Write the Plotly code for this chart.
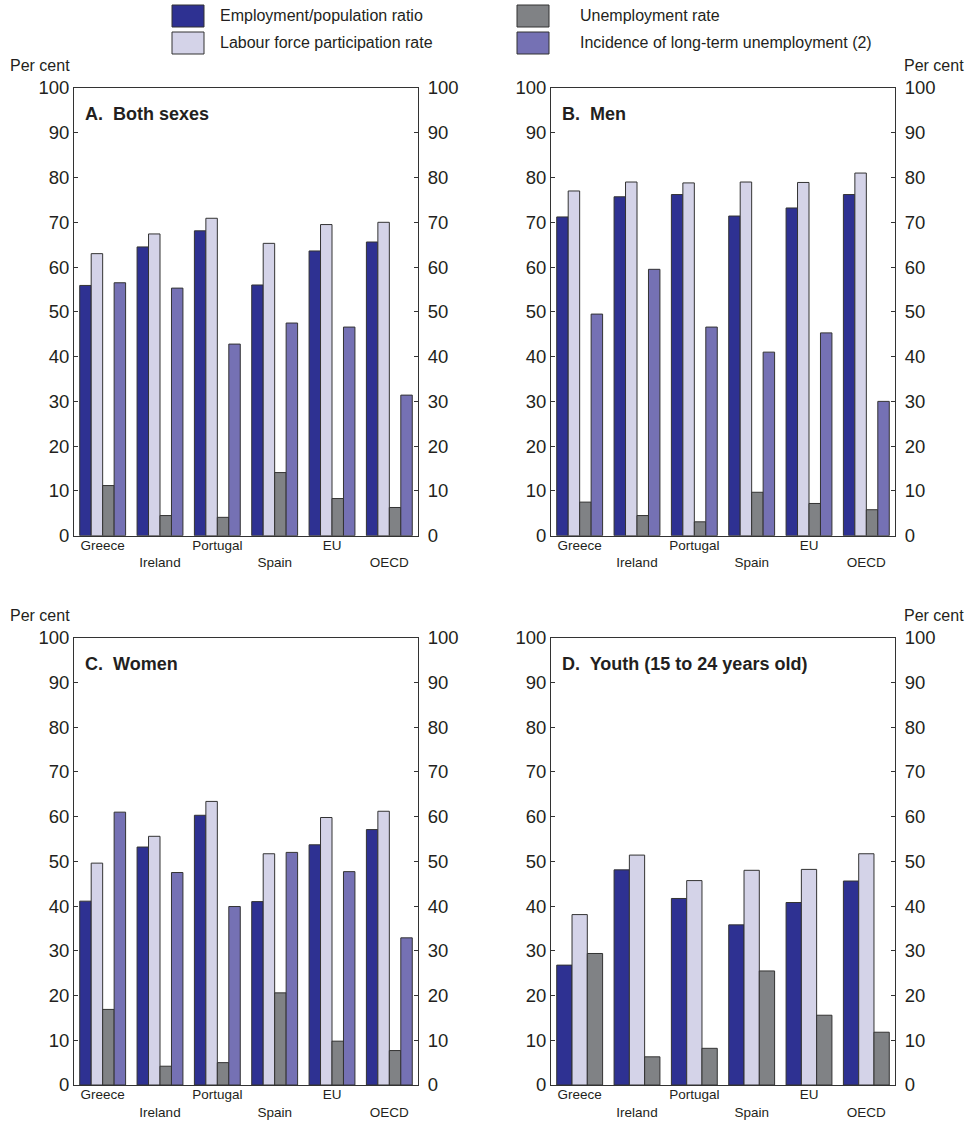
import plotly.graph_objects as go

# ---- data -------------------------------------------------------------
countries = ["Greece", "Ireland", "Portugal", "Spain", "EU", "OECD"]
# tick text: every second label drops to a second line
country_ticktext = ["Greece", "<br>Ireland", "Portugal", "<br>Spain", "EU", "<br>OECD"]

series_names = [
    "Employment/population ratio",
    "Labour force participation rate",
    "Unemployment rate",
    "Incidence of long-term unemployment (2)",
]
series_colors = ["#2E3192", "#D4D3E8", "#808285", "#7571B4"]

panel_titles = [
    "A.  Both sexes",
    "B.  Men",
    "C.  Women",
    "D.  Youth (15 to 24 years old)",
]

# Panel A: both sexes
both_emp = [55.9, 64.5, 68.1, 56.0, 63.6, 65.6]
both_lfp = [63.0, 67.4, 70.9, 65.3, 69.5, 70.0]
both_unemp = [11.2, 4.5, 4.1, 14.1, 8.3, 6.3]
both_ltu = [56.5, 55.3, 42.8, 47.5, 46.6, 31.4]

# Panel B: men
men_emp = [71.2, 75.7, 76.2, 71.4, 73.2, 76.2]
men_lfp = [77.0, 79.0, 78.8, 79.0, 78.9, 81.0]
men_unemp = [7.5, 4.5, 3.1, 9.7, 7.2, 5.8]
men_ltu = [49.5, 59.5, 46.6, 41.0, 45.3, 30.0]

# Panel C: women
women_emp = [41.1, 53.2, 60.3, 41.0, 53.7, 57.1]
women_lfp = [49.6, 55.6, 63.4, 51.7, 59.8, 61.2]
women_unemp = [16.9, 4.2, 5.0, 20.6, 9.8, 7.7]
women_ltu = [61.0, 47.5, 39.9, 52.0, 47.7, 32.9]

# Panel D: youth (no long-term unemployment series)
youth_emp = [26.8, 48.1, 41.7, 35.8, 40.8, 45.6]
youth_lfp = [38.1, 51.4, 45.7, 48.0, 48.2, 51.7]
youth_unemp = [29.4, 6.3, 8.2, 25.5, 15.6, 11.8]

panels = [
    [both_emp, both_lfp, both_unemp, both_ltu],
    [men_emp, men_lfp, men_unemp, men_ltu],
    [women_emp, women_lfp, women_unemp, women_ltu],
    [youth_emp, youth_lfp, youth_unemp],
]

y_ticks = list(range(0, 101, 10))

# ---- layout geometry (pixels) ------------------------------------------
W, H = 973, 1121
FONT = "Liberation Sans, Arial, Helvetica, sans-serif"
TEXT = "#231F20"
LINE = "#333333"

# plot boxes: (left, right, top, bottom) in pixels
boxes = [
    (74, 418, 88, 535.7),
    (551, 895, 88, 535.7),
    (74, 418, 637.7, 1085),
    (551, 895, 637.7, 1085),
]


def px(x):
    return x / W


def py(y):
    return 1 - y / H


fig = go.Figure()
layout = dict(
    width=W,
    height=H,
    margin=dict(l=0, r=0, t=0, b=0),
    paper_bgcolor="white",
    plot_bgcolor="white",
    barmode="group",
    bargap=0.2,
    bargroupgap=0,
    showlegend=False,
    font=dict(family=FONT, color=TEXT),
)

annotations = []
shapes = []

for i, (values, box) in enumerate(zip(panels, boxes)):
    n = i + 1
    xa = "x" if n == 1 else f"x{n}"
    ya = "y" if n == 1 else f"y{n}"
    ya_r = f"y{n + 4}"
    left, right, top, bottom = box

    for s, vals in enumerate(values):
        fig.add_trace(
            go.Bar(
                x=countries,
                y=vals,
                name=series_names[s],
                marker=dict(color=series_colors[s], line=dict(color=LINE, width=1)),
                xaxis=xa,
                yaxis=ya,
                showlegend=False,
            )
        )
    # placeholder trace that brings the right-hand value axis to life
    fig.add_trace(
        go.Scatter(x=[], y=[], xaxis=xa, yaxis=ya_r, showlegend=False, hoverinfo="skip")
    )

    layout[f"xaxis{n if n > 1 else ''}"] = dict(
        domain=[px(left), px(right)],
        anchor=ya,
        type="category",
        categoryorder="array",
        categoryarray=countries,
        range=[-0.5, 5.5],
        tickmode="array",
        tickvals=countries,
        ticktext=country_ticktext,
        ticks="",
        ticklabelstandoff=-3,
        showline=True,
        mirror=True,
        linecolor=LINE,
        linewidth=1,
        showgrid=False,
        zeroline=False,
        tickfont=dict(size=13.5, color=TEXT),
        automargin=False,
    )
    common_y = dict(
        range=[0, 100],
        tickmode="array",
        tickvals=y_ticks,
        ticks="inside",
        ticklen=4,
        tickcolor=LINE,
        showline=True,
        linecolor=LINE,
        linewidth=1,
        showgrid=False,
        zeroline=False,
        tickfont=dict(size=18.5, color=TEXT),
        automargin=False,
    )
    layout[f"yaxis{n if n > 1 else ''}"] = dict(
        domain=[py(bottom), py(top)], anchor=xa, side="left", **common_y
    )
    layout[f"yaxis{n + 4}"] = dict(
        domain=[py(bottom), py(top)],
        anchor=xa,
        overlaying=ya,
        side="right",
        ticklabelstandoff=5,
        **common_y,
    )

    annotations.append(
        dict(
            text=f"<b>{panel_titles[i]}</b>",
            xref="paper",
            yref="paper",
            x=px(left + 9),
            y=py(top + 26),
            xanchor="left",
            yanchor="middle",
            showarrow=False,
            font=dict(size=18, color=TEXT, family=FONT),
        )
    )
    # "Per cent" unit label: outer side of each row
    if i % 2 == 0:
        annotations.append(
            dict(text="Per cent", xref="paper", yref="paper", x=px(8), y=py(top - 22),
                 xanchor="left", yanchor="middle", showarrow=False,
                 font=dict(size=16, color=TEXT, family=FONT))
        )
    else:
        annotations.append(
            dict(text="Per cent", xref="paper", yref="paper", x=px(966), y=py(top - 22),
                 xanchor="right", yanchor="middle", showarrow=False,
                 font=dict(size=16, color=TEXT, family=FONT))
        )

# ---- legend (two columns, two rows) -------------------------------------
legend_cols = [(172, 218), (517, 578)]
legend_rows = [16, 43]
legend_order = [(0, 0, 0), (1, 0, 1), (2, 1, 0), (3, 1, 1)]  # (series, col, row)
for s, c, r in legend_order:
    sx, tx = legend_cols[c]
    cy = legend_rows[r]
    shapes.append(
        dict(type="rect", xref="paper", yref="paper",
             x0=px(sx), x1=px(sx + 32), y0=py(cy - 11), y1=py(cy + 11),
             fillcolor=series_colors[s], line=dict(color=LINE, width=1))
    )
    annotations.append(
        dict(text=series_names[s], xref="paper", yref="paper", x=px(tx), y=py(cy),
             xanchor="left", yanchor="middle", showarrow=False,
             font=dict(size=16, color=TEXT, family=FONT))
    )

layout["annotations"] = annotations
layout["shapes"] = shapes
fig.update_layout(**layout)

fig.write_html("out.html")
